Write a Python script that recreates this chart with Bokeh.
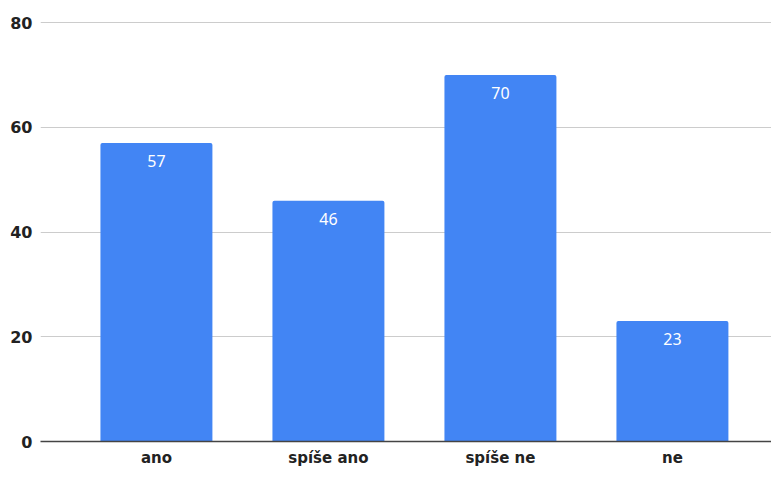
from bokeh.plotting import figure
from bokeh.models import Range1d, FixedTicker, ColumnDataSource
from bokeh.core.properties import value
from bokeh.embed import file_html
from bokeh.resources import INLINE

categories = ["ano", "spíše ano", "spíše ne", "ne"]
values = [57, 46, 70, 23]
y_ticks = [0, 20, 40, 60, 80]

xs = list(range(len(categories)))
src = ColumnDataSource(dict(x=xs, top=values, label=[str(v) for v in values]))

p = figure(width=771, height=469, output_backend="svg", toolbar_location=None,
           x_range=Range1d(-0.674, 3.576), y_range=Range1d(0, 80.4),
           min_border_left=40, min_border_right=0, min_border_top=20, min_border_bottom=20)
p.outline_line_color = None
p.background_fill_color = "white"
p.border_fill_color = "white"

p.vbar(x="x", top="top", width=0.651, bottom=0, source=src,
       fill_color="#4285F4", line_color=None, border_radius=(2, 2, 0, 0))

p.text(x="x", y="top", text="label", source=src, text_align="center",
       text_baseline="top", y_offset=12, text_color="white",
       text_font=value("Noto Sans"), text_font_size="16px")

for ax in (p.xaxis, p.yaxis):
    ax.major_tick_line_color = None
    ax.minor_tick_line_color = None
    ax.major_tick_out = 0
    ax.major_tick_in = 0
    ax.minor_tick_out = 0
    ax.major_label_text_font = "DejaVu Sans"
    ax.major_label_text_font_style = "bold"
    ax.major_label_text_color = "#222222"

p.xaxis.ticker = FixedTicker(ticks=xs)
p.xaxis.major_label_overrides = {i: c for i, c in enumerate(categories)}
p.xaxis.axis_line_color = "#444444"
p.xaxis.axis_line_width = 1.5
p.xaxis.major_label_standoff = 7
p.xaxis.major_label_text_font_size = "15px"

p.yaxis.ticker = FixedTicker(ticks=y_ticks)
p.yaxis.axis_line_color = None
p.yaxis.major_label_standoff = 8
p.yaxis.major_label_text_font_size = "16px"

p.xgrid.grid_line_color = None
p.ygrid.ticker = FixedTicker(ticks=[20, 40, 60, 80])
p.ygrid.grid_line_color = "#cccccc"
p.ygrid.grid_line_width = 1

open("out.html", "w").write(file_html(p, INLINE))
